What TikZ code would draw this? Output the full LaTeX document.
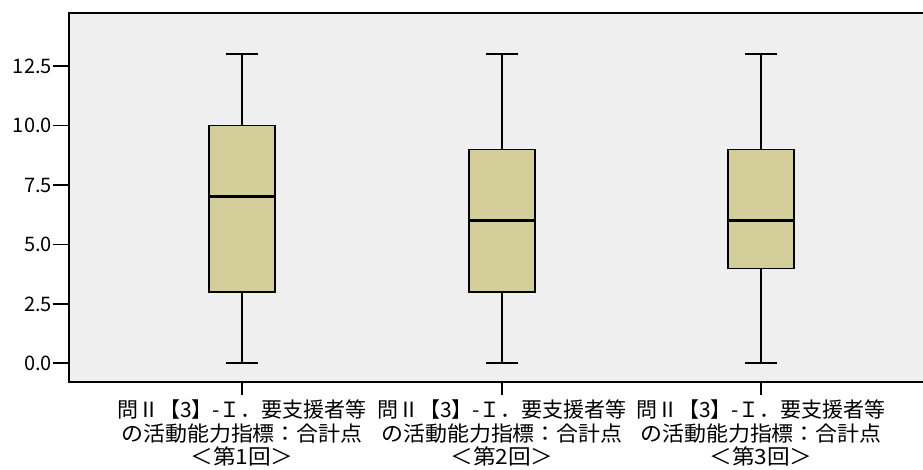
\documentclass[tikz,border=0pt]{standalone}
\usepackage{fontspec}
\newfontfamily\jpfont{Noto Sans CJK JP}
\definecolor{plotbg}{RGB}{239,239,239}
\definecolor{boxfill}{RGB}{211,206,153}
\tikzset{
  frameline/.style={line width=1.6pt, draw=black},
  tickline/.style={line width=1.6pt, draw=black},
  whisker/.style={line width=2pt, draw=black},
  boxrect/.style={fill=boxfill, draw=black, line width=1.4pt},
  medianline/.style={line width=3pt, draw=black},
  ticklabel/.style={font=\jpfont\fontsize{20}{20}\selectfont, anchor=east, inner sep=0pt},
  catlabel/.style={font=\jpfont\fontsize{21}{23.5}\selectfont, align=center, anchor=north, inner sep=0pt},
}
\newcommand{\lineA}{問Ⅱ【3】-Ｉ．要支援者等}
\newcommand{\lineB}{\scalebox{1.045}[1]{の活動能力指標：合計点}}
\newcommand{\lineC}[1]{\scalebox{1.08}[1]{＜第#1回＞}}
\begin{document}
\begin{tikzpicture}[x=1pt,y=1pt]
\useasboundingbox (0,0) rectangle (923,470);
\fill[white] (0,0) rectangle (923,470);
% plot area
\fill[plotbg] (69,88) rectangle (923,457);
\draw[frameline] (923,457) -- (69,457) -- (69,88) -- (923,88);
% y axis ticks (value v at y = 106.7 + 23.76 v)
\foreach \v/\lab in {0/0.0, 2.5/2.5, 5/5.0, 7.5/7.5, 10/10.0, 12.5/12.5} {
  \pgfmathsetmacro{\yy}{106.7+23.76*\v}
  \draw[tickline] (53,\yy) -- (69,\yy);
  \node[ticklabel] (yl\v) at (52,\yy) {\lab};
}
% boxes: center/q1/median/q3, whiskers 0..13
\foreach \i/\cx/\qa/\md/\qc in {1/242/3/7/10, 2/502/3/6/9, 3/761/4/6/9} {
  \pgfmathsetmacro{\ylo}{106.7}
  \pgfmathsetmacro{\yhi}{106.7+23.76*13}
  \pgfmathsetmacro{\ya}{106.7+23.76*\qa}
  \pgfmathsetmacro{\ym}{106.7+23.76*\md}
  \pgfmathsetmacro{\yc}{106.7+23.76*\qc}
  \draw[whisker] (\cx,\ylo) -- (\cx,\ya);
  \draw[whisker] (\cx,\yc) -- (\cx,\yhi);
  \draw[whisker] (\cx-16,\ylo) -- (\cx+16,\ylo);
  \draw[whisker] (\cx-16,\yhi) -- (\cx+16,\yhi);
  \draw[boxrect] (\cx-33,\ya) rectangle (\cx+33,\yc);
  \draw[medianline] (\cx-32.3,\ym) -- (\cx+32.3,\ym);
  \draw[tickline] (\cx,88) -- (\cx,75);
}
\node[catlabel] (c1) at (242,70) {\lineA\\\lineB\\\lineC{1}};
\node[catlabel] (c2) at (502,70) {\lineA\\\lineB\\\lineC{2}};
\node[catlabel] (c3) at (761,70) {\lineA\\\lineB\\\lineC{3}};
\end{tikzpicture}
\end{document}
